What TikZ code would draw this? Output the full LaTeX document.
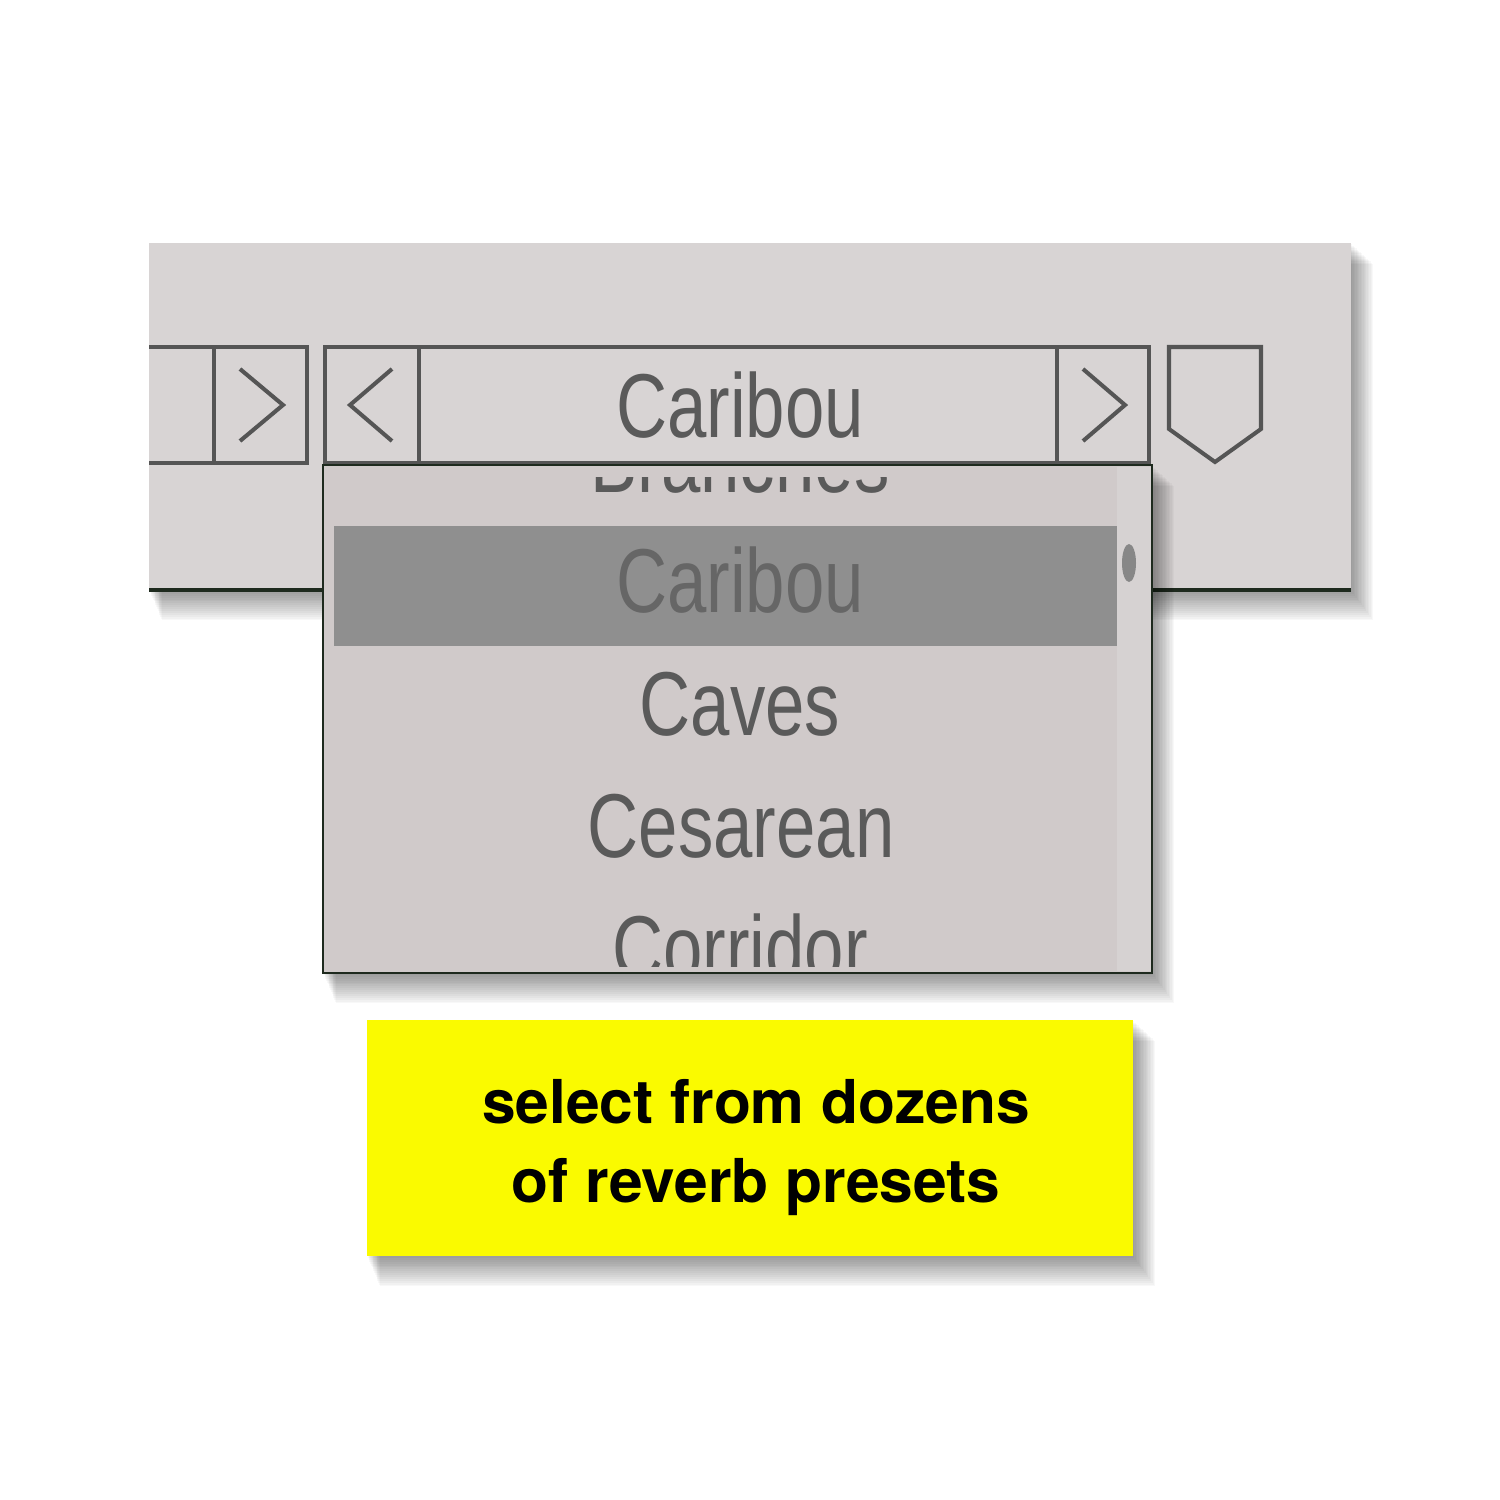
\documentclass[tikz,border=0pt]{standalone}
\usepackage{fontspec}
\setmainfont{Liberation Sans}
\newfontfamily\capfont{TeX Gyre Heros}
\definecolor{panelbg}{HTML}{D8D4D4}
\definecolor{listbg}{HTML}{D0CACA}
\definecolor{stripbg}{HTML}{D6D2D2}
\definecolor{hilite}{HTML}{8F8F8F}
\definecolor{thumb}{HTML}{878787}
\definecolor{pixtext}{HTML}{5A5A5A}
\definecolor{pixtexthl}{HTML}{666666}
\definecolor{btnline}{HTML}{555555}
\definecolor{darkedge}{HTML}{1E2A1E}
\definecolor{yel}{RGB}{250,250,0}
\newcommand{\softshade}[4]{%
  \foreach \i in {1,...,16}{%
    \fill[black,opacity=0.026] ({#1+\i*0.8},{#2+\i*1.3}) rectangle ({#3+\i*1.4},{#4+\i*1.9});
  }}
\begin{document}
\begin{tikzpicture}[x=0.01cm,y=-0.01cm,
  btn/.style={draw=btnline,line width=1.15pt,line join=miter},
  pix/.style={font=\fontsize{25.8pt}{30pt}\selectfont, text=pixtext, inner sep=0pt, anchor=base},
  captext/.style={font=\capfont\bfseries\fontsize{17.2pt}{22pt}\selectfont, text=black, inner sep=0pt, anchor=base}]
\useasboundingbox (0,0) rectangle (1500,1500);
\fill[white] (0,0) rectangle (1500,1500);
% panel
\softshade{149}{243}{1351}{590}
\fill[panelbg] (149,243) rectangle (1351,590);
\draw[line width=0.9pt, darkedge] (149,590) -- (1351,590);
% left partial button
\draw[btn] (149,347) -- (307,347) -- (307,463) -- (149,463);
\draw[btn] (214,347) -- (214,463);
\draw[btn] (240,369) -- (283,405) -- (240,441);
% main selector
\draw[btn] (325,347) rectangle (1149,463);
\draw[btn] (419,347) -- (419,463);
\draw[btn] (1057,347) -- (1057,463);
\draw[btn] (392,369) -- (350,405) -- (392,441);
\draw[btn] (1083,369) -- (1125,405) -- (1083,441);
\node[pix] (title) at (740,437) {\scalebox{0.78}[1]{Caribou}};
% shield
\draw[btn] (1169,347) -- (1261,347) -- (1261,429) -- (1215,462) -- (1169,429) -- cycle;
% dropdown list
\softshade{323}{465}{1152}{973}
\fill[listbg] (323,465) rectangle (1152,973);
\fill[stripbg] (1117,467) rectangle (1151,971);
\begin{scope}
  \clip (325,477) rectangle (1151,966);
  \fill[hilite] (334,526) rectangle (1117,646);
  \node[pix] (item0) at (740,492) {\scalebox{0.78}[1]{Branches}};
  \node[pix, text=pixtexthl] (item1) at (740,612) {\scalebox{0.78}[1]{Caribou}};
  \node[pix] (item2) at (740,735) {\scalebox{0.78}[1]{Caves}};
  \node[pix] (item3) at (741,857) {\scalebox{0.78}[1]{Cesarean}};
  \node[pix] (item4) at (740,979) {\scalebox{0.78}[1]{Corridor}};
\end{scope}
\fill[thumb] (1129,563) ellipse [x radius=7, y radius=19];
\draw[line width=0.7pt, darkedge] (323,465) rectangle (1152,973);
% caption
\softshade{367}{1020}{1133}{1256}
\fill[yel] (367,1020) rectangle (1133,1256);
\node[captext] (cap1) at (756,1123) {select from dozens};
\node[captext] (cap2) at (756,1202) {of reverb presets};
\end{tikzpicture}
\end{document}
